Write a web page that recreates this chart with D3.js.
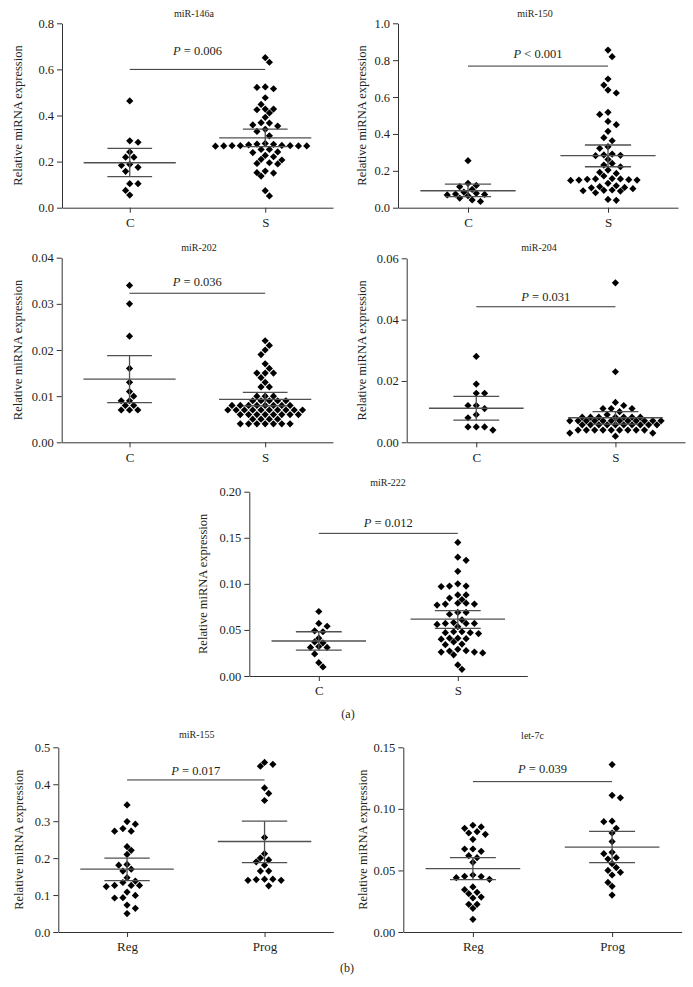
<!DOCTYPE html>
<html>
<head>
<meta charset="utf-8">
<script src="https://cdn.jsdelivr.net/npm/d3@7"></script>
<style>
  body { margin: 0; background: #fff; }
  text { font-family: "Liberation Serif", "Times New Roman", serif; fill: #231f20; }
</style>
</head>
<body>
<svg id="fig" width="693" height="987"></svg>
<script>
// ---- data ----
var titles = ["miR-146a", "miR-150", "miR-202", "miR-204", "miR-222", "miR-155", "let-7c"];
var groupsCS = ["C", "S"];
var groupsRP = ["Reg", "Prog"];
var pTexts = ["= 0.006", "< 0.001", "= 0.036", "= 0.031", "= 0.012", "= 0.017", "= 0.039"];
var pLines = [0.6, 0.768, 0.0323, 0.0442, 0.1548, 0.4116, 0.1221];

var ticks146 = [0, 0.2, 0.4, 0.6, 0.8];
var ticks150 = [0, 0.2, 0.4, 0.6, 0.8, 1.0];
var ticks202 = [0, 0.01, 0.02, 0.03, 0.04];
var ticks204 = [0, 0.02, 0.04, 0.06];
var ticks222 = [0, 0.05, 0.10, 0.15, 0.20];
var ticks155 = [0, 0.1, 0.2, 0.3, 0.4, 0.5];
var ticks7c = [0, 0.05, 0.10, 0.15];
var tickFormats = [".1f", ".1f", ".2f", ".2f", ".2f", ".1f", ".2f"];

var c146 = [0.463, 0.290, 0.284, 0.242, 0.219, 0.219, 0.188, 0.184, 0.175, 0.158, 0.104, 0.104, 0.075, 0.055];
var s146 = [0.651, 0.631, 0.524, 0.522, 0.516, 0.477, 0.448, 0.428, 0.428, 0.425, 0.411, 0.392, 0.369, 0.367,
  0.359, 0.354, 0.340, 0.331, 0.312, 0.279, 0.276, 0.275, 0.273, 0.270, 0.269, 0.269, 0.269, 0.268, 0.268,
  0.268, 0.267, 0.253, 0.253, 0.242, 0.239, 0.227, 0.221, 0.210, 0.207, 0.195, 0.192, 0.190, 0.159, 0.152,
  0.150, 0.137, 0.074, 0.051];

var c150 = [0.255, 0.132, 0.121, 0.114, 0.099, 0.085, 0.078, 0.074, 0.072, 0.069, 0.065, 0.052, 0.042, 0.034];
var s150 = [0.855, 0.819, 0.698, 0.665, 0.638, 0.622, 0.517, 0.506, 0.468, 0.450, 0.414, 0.380, 0.363, 0.331,
  0.322, 0.291, 0.286, 0.284, 0.282, 0.262, 0.240, 0.231, 0.222, 0.204, 0.192, 0.186, 0.172, 0.158, 0.156,
  0.156, 0.154, 0.152, 0.150, 0.150, 0.148, 0.132, 0.119, 0.114, 0.110, 0.108, 0.103, 0.096, 0.094, 0.092,
  0.090, 0.081, 0.045, 0.040];

var c202 = [0.034, 0.030, 0.023, 0.016, 0.013, 0.011, 0.010, 0.009, 0.009, 0.008, 0.008, 0.007, 0.007, 0.007];
var s202 = [0.022, 0.021, 0.020, 0.019, 0.017, 0.016, 0.015, 0.015, 0.015, 0.014, 0.013, 0.012, 0.012,
  0.010, 0.010, 0.010, 0.009, 0.009, 0.009, 0.009, 0.009,
  0.008, 0.008, 0.008, 0.008, 0.008, 0.008, 0.008, 0.008,
  0.007, 0.007, 0.007, 0.007, 0.007, 0.007, 0.007, 0.007, 0.007, 0.007,
  0.006, 0.006, 0.006, 0.006, 0.006, 0.006, 0.006, 0.006,
  0.005, 0.005, 0.005, 0.005,
  0.004, 0.004, 0.004, 0.004, 0.004, 0.004, 0.004];

var c204 = [0.028, 0.019, 0.016, 0.016, 0.012, 0.012, 0.011, 0.009, 0.008, 0.005, 0.005, 0.005, 0.004];
var s204 = [0.052, 0.023, 0.013, 0.012, 0.011, 0.011, 0.011, 0.010, 0.009,
  0.0082, 0.0082, 0.0082, 0.0082, 0.0082, 0.0082, 0.0082,
  0.007, 0.007, 0.007, 0.007, 0.007, 0.007, 0.007, 0.007, 0.007, 0.007, 0.007, 0.007,
  0.0057, 0.0057, 0.0057, 0.0057, 0.0057, 0.0057, 0.0057, 0.0057, 0.0057, 0.0057,
  0.004, 0.004, 0.004, 0.004, 0.004, 0.004, 0.004, 0.004, 0.004,
  0.003, 0.003, 0.002];

var c222 = [0.070, 0.057, 0.054, 0.049, 0.048, 0.041, 0.037, 0.036, 0.032, 0.031, 0.031, 0.024, 0.0145, 0.0098];
var s222 = [0.145, 0.129, 0.1255, 0.1136, 0.100, 0.0976, 0.0976, 0.097, 0.088, 0.088, 0.0846, 0.083, 0.079,
  0.079, 0.078, 0.078, 0.077, 0.069, 0.069, 0.067, 0.061, 0.058, 0.057, 0.057, 0.057, 0.056, 0.0535, 0.048,
  0.048, 0.047, 0.047, 0.046, 0.041, 0.041, 0.0405, 0.040, 0.037, 0.0347, 0.034, 0.029, 0.0275, 0.027, 0.026,
  0.026, 0.025, 0.023, 0.012, 0.0072];

var reg155 = [0.344, 0.299, 0.292, 0.280, 0.273, 0.273, 0.231, 0.221, 0.210, 0.183, 0.181, 0.170, 0.165, 0.147,
  0.138, 0.134, 0.126, 0.126, 0.126, 0.123, 0.108, 0.099, 0.093, 0.092, 0.073, 0.064, 0.050];
var prog155 = [0.459, 0.454, 0.449, 0.390, 0.375, 0.356, 0.256, 0.212, 0.200, 0.195, 0.190, 0.181, 0.165, 0.165,
  0.143, 0.143, 0.142, 0.140, 0.140, 0.125];

var reg7c = [0.0867, 0.0853, 0.0842, 0.0815, 0.0804, 0.0793, 0.0753, 0.0674, 0.0674, 0.0655, 0.062, 0.0604,
  0.0566, 0.0463, 0.0452, 0.045, 0.0441, 0.0428, 0.0366, 0.0344, 0.0322, 0.0311, 0.0284, 0.0276, 0.0225,
  0.0225, 0.0192, 0.0103];
var prog7c = [0.136, 0.111, 0.109, 0.090, 0.0896, 0.0842, 0.0804, 0.0734, 0.0647, 0.0636, 0.0604, 0.0593,
  0.0555, 0.0523, 0.050, 0.0485, 0.0463, 0.0403, 0.0371, 0.030];

// mean and SEM bars (first group, second group)
var means = [[0.195, 0.303], [0.092, 0.282], [0.0137, 0.0093], [0.0111, 0.008], [0.038, 0.0618], [0.17, 0.245], [0.0514, 0.069]];
var semLo = [[0.135, 0.265], [0.060, 0.222], [0.0086, 0.0079], [0.0072, 0.0059], [0.028, 0.0517], [0.139, 0.188], [0.0425, 0.0563]];
var semHi = [[0.257, 0.341], [0.128, 0.340], [0.0188, 0.0108], [0.0150, 0.0100], [0.048, 0.0709], [0.200, 0.300], [0.0604, 0.0818]];

// ---- page layout (pixels) ----
var layout = [
  { left: 62, right: 333, top: 23.3, bottom: 207.7, labelX: 17.3, titleX: 194, titleY: 16.8, pGap: 14 },
  { left: 398, right: 678, top: 23.3, bottom: 207.7, labelX: 362, titleX: 535, titleY: 17.3, pGap: 7.7 },
  { left: 61.7, right: 333, top: 257.7, bottom: 442.3, labelX: 17.5, titleX: 199, titleY: 251, pGap: 7.7 },
  { left: 406.7, right: 685, top: 258.3, bottom: 442.3, labelX: 362, titleX: 539, titleY: 251, pGap: 6 },
  { left: 249.3, right: 527.3, top: 491.7, bottom: 676, labelX: 202.5, titleX: 388, titleY: 486, pGap: 6.7 },
  { left: 58.3, right: 333.3, top: 747.3, bottom: 932, labelX: 18.7, titleX: 196.7, titleY: 738.3, pGap: 4.5 },
  { left: 403.3, right: 681.7, top: 747.3, bottom: 932, labelX: 362.5, titleX: 532.5, titleY: 738.5, pGap: 8.3 }
];

var panels = [
  { groups: groupsCS, data: [c146, s146], ticks: ticks146 },
  { groups: groupsCS, data: [c150, s150], ticks: ticks150 },
  { groups: groupsCS, data: [c202, s202], ticks: ticks202 },
  { groups: groupsCS, data: [c204, s204], ticks: ticks204 },
  { groups: groupsCS, data: [c222, s222], ticks: ticks222 },
  { groups: groupsRP, data: [reg155, prog155], ticks: ticks155 },
  { groups: groupsRP, data: [reg7c, prog7c], ticks: ticks7c }
];

var axisColor = "#333";
var barColor = "#505050";
var gridStep = 4.15;  // half of the horizontal spacing between neighbours
var minDist = 7.6;    // |dx| + |dy| needed between two diamonds

var svg = d3.select("#fig");

// greedy scatter: x offsets on a half-spacing grid, no two diamonds closer than minDist (L1)
function swarm(vals, y) {
  var pts = vals.slice().sort(function (a, b) { return b - a; })
    .map(function (v) { return { v: v, y: y(v), x: 0 }; });
  var placed = [];
  var flip = 1;
  pts.forEach(function (p) {
    var near = placed.filter(function (q) { return Math.abs(q.y - p.y) < minDist; });
    function free(x) {
      return near.every(function (q) { return Math.abs(q.x - x) + Math.abs(q.y - p.y) >= minDist - 1e-6; });
    }
    for (var k = 0; k < 60; k++) {
      var c = k * gridStep;
      if (k === 0) { if (free(0)) { p.x = 0; break; } continue; }
      var a = flip * c, b = -flip * c;
      if (free(a)) { p.x = a; flip = -flip; break; }
      if (free(b)) { p.x = b; break; }
    }
    placed.push(p);
  });
  return pts;
}

var diamond = d3.symbol().type(d3.symbolSquare).size(26);

panels.forEach(function (cfg, i) {
  var L = layout[i];
  var w = L.right - L.left, h = L.bottom - L.top;
  var g = svg.append("g").attr("transform", "translate(" + L.left + "," + L.top + ")");

  var x = d3.scalePoint().domain(cfg.groups).range([0, w]).padding(0.5);
  var y = d3.scaleLinear().domain([0, cfg.ticks[cfg.ticks.length - 1]]).range([h, 0]);

  // y axis
  var ya = g.append("g")
    .call(d3.axisLeft(y).tickValues(cfg.ticks).tickFormat(d3.format(tickFormats[i]))
      .tickSize(5).tickPadding(3).tickSizeOuter(0));
  // x axis
  var xa = g.append("g")
    .attr("transform", "translate(0," + h + ")")
    .call(d3.axisBottom(x).tickSize(5).tickPadding(5).tickSizeOuter(0));

  [ya, xa].forEach(function (a) {
    a.selectAll(".domain").attr("stroke", axisColor).attr("stroke-width", 1);
    a.selectAll(".tick line").attr("stroke", axisColor);
    a.selectAll("text").style("font-size", "12.5px").attr("fill", "#231f20");
  });
  xa.selectAll("text").style("font-size", "13px");

  // y label
  svg.append("text")
    .attr("transform", "translate(" + L.labelX + "," + (L.top + h / 2) + ") rotate(-90)")
    .attr("text-anchor", "middle")
    .attr("dy", "0.35em")
    .style("font-size", "12.5px")
    .text("Relative miRNA expression");

  // title
  svg.append("text")
    .attr("x", L.titleX).attr("y", L.titleY)
    .attr("text-anchor", "middle")
    .style("font-size", "10px")
    .text(titles[i]);

  // points
  cfg.data.forEach(function (vals, j) {
    var cx = x(cfg.groups[j]);
    var pts = swarm(vals, y);
    g.selectAll(".dot" + j)
      .data(pts)
      .enter()
      .append("path")
      .attr("class", "dot" + j)
      .attr("d", diamond)
      .attr("transform", function (d) { return "translate(" + (cx + d.x) + "," + d.y + ") rotate(45)"; })
      .attr("fill", "#000");
  });

  // mean +/- SEM bars
  var half = x.step() * 0.34, halfSem = x.step() * 0.165;
  cfg.groups.forEach(function (grp, j) {
    var cx = x(grp);
    g.append("line")
      .attr("x1", cx - half).attr("x2", cx + half)
      .attr("y1", y(means[i][j])).attr("y2", y(means[i][j]))
      .attr("stroke", barColor).attr("stroke-width", 1.3);
    [semLo[i][j], semHi[i][j]].forEach(function (v) {
      g.append("line")
        .attr("x1", cx - halfSem).attr("x2", cx + halfSem)
        .attr("y1", y(v)).attr("y2", y(v))
        .attr("stroke", barColor).attr("stroke-width", 1.3);
    });
    g.append("line")
      .attr("x1", cx).attr("x2", cx)
      .attr("y1", y(semLo[i][j])).attr("y2", y(semHi[i][j]))
      .attr("stroke", barColor).attr("stroke-width", 1.3);
  });

  // significance bracket
  var x0 = x(cfg.groups[0]), x1 = x(cfg.groups[1]);
  g.append("line")
    .attr("x1", x0).attr("x2", x1)
    .attr("y1", y(pLines[i])).attr("y2", y(pLines[i]))
    .attr("stroke", axisColor).attr("stroke-width", 1);
  var pt = g.append("text")
    .attr("x", (x0 + x1) / 2)
    .attr("y", y(pLines[i]) - L.pGap)
    .attr("text-anchor", "middle")
    .style("font-size", "12.5px");
  pt.append("tspan").style("font-style", "italic").text("P");
  pt.append("tspan").text(" " + pTexts[i]);
});

// part labels
svg.append("text").attr("x", 348).attr("y", 718).attr("text-anchor", "middle")
  .style("font-size", "12px").text("(a)");
svg.append("text").attr("x", 347).attr("y", 972).attr("text-anchor", "middle")
  .style("font-size", "12px").text("(b)");
</script>
</body>
</html>
